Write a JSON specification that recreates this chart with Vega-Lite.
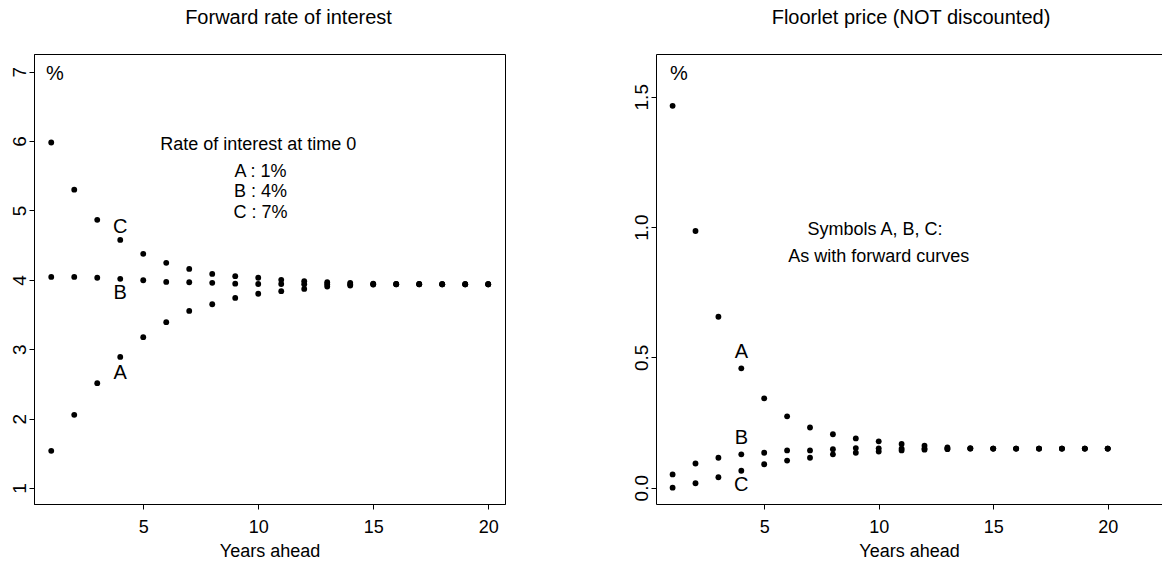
{
  "$schema": "https://vega.github.io/schema/vega-lite/v6.json",
  "background": "white",
  "padding": {"left": 9, "top": 7, "right": 0, "bottom": 0},
  "bounds": "flush",
  "spacing": 151,
  "datasets": {
    "fwd": [
      {"year": 1, "curve": "A", "value": 1.536}, {"year": 2, "curve": "A", "value": 2.055}, {"year": 3, "curve": "A", "value": 2.511}, {"year": 4, "curve": "A", "value": 2.89}, {"year": 5, "curve": "A", "value": 3.174},
      {"year": 6, "curve": "A", "value": 3.39}, {"year": 7, "curve": "A", "value": 3.553}, {"year": 8, "curve": "A", "value": 3.649}, {"year": 9, "curve": "A", "value": 3.74}, {"year": 10, "curve": "A", "value": 3.8},
      {"year": 11, "curve": "A", "value": 3.837}, {"year": 12, "curve": "A", "value": 3.87}, {"year": 13, "curve": "A", "value": 3.904}, {"year": 14, "curve": "A", "value": 3.918}, {"year": 15, "curve": "A", "value": 3.933},
      {"year": 16, "curve": "A", "value": 3.937}, {"year": 17, "curve": "A", "value": 3.937}, {"year": 18, "curve": "A", "value": 3.937}, {"year": 19, "curve": "A", "value": 3.937}, {"year": 20, "curve": "A", "value": 3.937},
      {"year": 1, "curve": "B", "value": 4.043}, {"year": 2, "curve": "B", "value": 4.043}, {"year": 3, "curve": "B", "value": 4.03}, {"year": 4, "curve": "B", "value": 4.015}, {"year": 5, "curve": "B", "value": 3.995},
      {"year": 6, "curve": "B", "value": 3.97}, {"year": 7, "curve": "B", "value": 3.966}, {"year": 8, "curve": "B", "value": 3.957}, {"year": 9, "curve": "B", "value": 3.945}, {"year": 10, "curve": "B", "value": 3.94},
      {"year": 11, "curve": "B", "value": 3.94}, {"year": 12, "curve": "B", "value": 3.938}, {"year": 13, "curve": "B", "value": 3.938}, {"year": 14, "curve": "B", "value": 3.937}, {"year": 15, "curve": "B", "value": 3.937},
      {"year": 16, "curve": "B", "value": 3.937}, {"year": 17, "curve": "B", "value": 3.937}, {"year": 18, "curve": "B", "value": 3.937}, {"year": 19, "curve": "B", "value": 3.937}, {"year": 20, "curve": "B", "value": 3.937},
      {"year": 1, "curve": "C", "value": 5.98}, {"year": 2, "curve": "C", "value": 5.3}, {"year": 3, "curve": "C", "value": 4.865}, {"year": 4, "curve": "C", "value": 4.576}, {"year": 5, "curve": "C", "value": 4.375},
      {"year": 6, "curve": "C", "value": 4.245}, {"year": 7, "curve": "C", "value": 4.158}, {"year": 8, "curve": "C", "value": 4.086}, {"year": 9, "curve": "C", "value": 4.053}, {"year": 10, "curve": "C", "value": 4.03},
      {"year": 11, "curve": "C", "value": 4.0}, {"year": 12, "curve": "C", "value": 3.98}, {"year": 13, "curve": "C", "value": 3.966}, {"year": 14, "curve": "C", "value": 3.957}, {"year": 15, "curve": "C", "value": 3.947},
      {"year": 16, "curve": "C", "value": 3.94}, {"year": 17, "curve": "C", "value": 3.94}, {"year": 18, "curve": "C", "value": 3.937}, {"year": 19, "curve": "C", "value": 3.937}, {"year": 20, "curve": "C", "value": 3.937}
    ],
    "floor": [
      {"year": 1, "curve": "A", "value": 1.465}, {"year": 2, "curve": "A", "value": 0.985}, {"year": 3, "curve": "A", "value": 0.656}, {"year": 4, "curve": "A", "value": 0.458}, {"year": 5, "curve": "A", "value": 0.343},
      {"year": 6, "curve": "A", "value": 0.274}, {"year": 7, "curve": "A", "value": 0.231}, {"year": 8, "curve": "A", "value": 0.205}, {"year": 9, "curve": "A", "value": 0.189}, {"year": 10, "curve": "A", "value": 0.178},
      {"year": 11, "curve": "A", "value": 0.168}, {"year": 12, "curve": "A", "value": 0.161}, {"year": 13, "curve": "A", "value": 0.155}, {"year": 14, "curve": "A", "value": 0.152}, {"year": 15, "curve": "A", "value": 0.15},
      {"year": 16, "curve": "A", "value": 0.15}, {"year": 17, "curve": "A", "value": 0.15}, {"year": 18, "curve": "A", "value": 0.15}, {"year": 19, "curve": "A", "value": 0.15}, {"year": 20, "curve": "A", "value": 0.15},
      {"year": 1, "curve": "B", "value": 0.051}, {"year": 2, "curve": "B", "value": 0.093}, {"year": 3, "curve": "B", "value": 0.115}, {"year": 4, "curve": "B", "value": 0.128}, {"year": 5, "curve": "B", "value": 0.134},
      {"year": 6, "curve": "B", "value": 0.143}, {"year": 7, "curve": "B", "value": 0.143}, {"year": 8, "curve": "B", "value": 0.148}, {"year": 9, "curve": "B", "value": 0.152}, {"year": 10, "curve": "B", "value": 0.151},
      {"year": 11, "curve": "B", "value": 0.15}, {"year": 12, "curve": "B", "value": 0.15}, {"year": 13, "curve": "B", "value": 0.15}, {"year": 14, "curve": "B", "value": 0.15}, {"year": 15, "curve": "B", "value": 0.15},
      {"year": 16, "curve": "B", "value": 0.15}, {"year": 17, "curve": "B", "value": 0.15}, {"year": 18, "curve": "B", "value": 0.15}, {"year": 19, "curve": "B", "value": 0.15}, {"year": 20, "curve": "B", "value": 0.15},
      {"year": 1, "curve": "C", "value": 0.0}, {"year": 2, "curve": "C", "value": 0.017}, {"year": 3, "curve": "C", "value": 0.04}, {"year": 4, "curve": "C", "value": 0.065}, {"year": 5, "curve": "C", "value": 0.09},
      {"year": 6, "curve": "C", "value": 0.104}, {"year": 7, "curve": "C", "value": 0.115}, {"year": 8, "curve": "C", "value": 0.128}, {"year": 9, "curve": "C", "value": 0.134}, {"year": 10, "curve": "C", "value": 0.139},
      {"year": 11, "curve": "C", "value": 0.143}, {"year": 12, "curve": "C", "value": 0.146}, {"year": 13, "curve": "C", "value": 0.148}, {"year": 14, "curve": "C", "value": 0.15}, {"year": 15, "curve": "C", "value": 0.15},
      {"year": 16, "curve": "C", "value": 0.15}, {"year": 17, "curve": "C", "value": 0.15}, {"year": 18, "curve": "C", "value": 0.15}, {"year": 19, "curve": "C", "value": 0.15}, {"year": 20, "curve": "C", "value": 0.15}
    ],
    "fwdText": [
      {"year": 4, "value": 4.68, "label": "C", "size": 20},
      {"year": 4, "value": 3.726, "label": "B", "size": 20},
      {"year": 4, "value": 2.573, "label": "A", "size": 20},
      {"year": 1.16, "value": 6.88, "label": "%", "size": 20},
      {"year": 10, "value": 5.873, "label": "Rate of interest at time 0", "size": 18},
      {"year": 10.1, "value": 5.488, "label": "A : 1%", "size": 18},
      {"year": 10.1, "value": 5.19, "label": "B : 4%", "size": 18},
      {"year": 10.1, "value": 4.893, "label": "C : 7%", "size": 18}
    ],
    "floorText": [
      {"year": 4, "value": 0.496, "label": "A", "size": 20},
      {"year": 4, "value": 0.166, "label": "B", "size": 20},
      {"year": 4, "value": -0.013, "label": "C", "size": 20},
      {"year": 1.27, "value": 1.565, "label": "%", "size": 20},
      {"year": 9.84, "value": 0.968, "label": "Symbols A, B, C:", "size": 18},
      {"year": 10.0, "value": 0.866, "label": "As with forward curves", "size": 18}
    ]
  },
  "hconcat": [
    {
      "width": 471,
      "height": 450,
      "title": {"text": "Forward rate of interest", "font": "Liberation Sans", "fontSize": 20, "fontWeight": "normal", "color": "black", "frame": "group", "anchor": "middle", "dx": 19, "baseline": "alphabetic", "offset": 10},
      "layer": [
        {
          "data": {"name": "fwd"},
          "mark": {"type": "circle", "size": 34, "color": "black", "opacity": 1},
          "encoding": {
            "x": {"field": "year", "type": "quantitative", "scale": {"domain": [0.25, 20.73], "nice": false, "zero": false}, "axis": {"values": [5, 10, 15, 20], "title": "Years ahead"}},
            "y": {"field": "value", "type": "quantitative", "scale": {"domain": [0.77, 7.255], "nice": false, "zero": false}, "axis": {"values": [1, 2, 3, 4, 5, 6, 7], "format": "d", "title": null}}
          }
        },
        {
          "data": {"name": "fwdText"},
          "mark": {"type": "text", "font": "Liberation Sans", "color": "black", "align": "center", "baseline": "alphabetic"},
          "encoding": {
            "x": {"field": "year", "type": "quantitative"},
            "y": {"field": "value", "type": "quantitative"},
            "text": {"field": "label"},
            "size": {"field": "size", "type": "quantitative", "scale": null, "legend": null}
          }
        }
      ]
    },
    {
      "width": 506,
      "height": 450,
      "view": {"stroke": null},
      "title": {"text": "Floorlet price (NOT discounted)", "font": "Liberation Sans", "fontSize": 20, "fontWeight": "normal", "color": "black", "frame": "group", "anchor": "middle", "dx": 2, "baseline": "alphabetic", "offset": 10},
      "layer": [
        {
          "data": {"name": "floor"},
          "mark": {"type": "circle", "size": 34, "color": "black", "opacity": 1},
          "encoding": {
            "x": {"field": "year", "type": "quantitative", "scale": {"domain": [0.275, 22.37], "nice": false, "zero": false}, "axis": {"orient": "bottom", "values": [5, 10, 15, 20], "title": "Years ahead"}},
            "y": {"field": "value", "type": "quantitative", "scale": {"domain": [-0.0625, 1.664], "nice": false, "zero": false}, "axis": {"values": [0, 0.5, 1, 1.5], "format": ".1f", "title": null}}
          }
        },
        {
          "data": {"name": "floorText"},
          "mark": {"type": "text", "font": "Liberation Sans", "color": "black", "align": "center", "baseline": "alphabetic"},
          "encoding": {
            "x": {"field": "year", "type": "quantitative", "axis": {"orient": "top", "domain": true, "ticks": false, "labels": false, "title": null, "grid": false}},
            "y": {"field": "value", "type": "quantitative"},
            "text": {"field": "label"},
            "size": {"field": "size", "type": "quantitative", "scale": null, "legend": null}
          }
        }
      ]
    }
  ],
  "config": {
    "view": {"stroke": "black", "strokeWidth": 1},
    "axis": {
      "grid": false,
      "domainColor": "black",
      "domainWidth": 1,
      "tickColor": "black",
      "tickSize": 5,
      "labelColor": "black",
      "titleColor": "black",
      "labelFont": "Liberation Sans",
      "labelFontSize": 18,
      "titleFont": "Liberation Sans",
      "titleFontSize": 18,
      "titleFontWeight": "normal"
    },
    "axisX": {"labelPadding": 9, "titlePadding": 6},
    "axisY": {"labelAngle": 270, "labelFont": "Liberation Sans", "labelFontSize": 19, "labelAlign": "center", "labelBaseline": "alphabetic", "labelPadding": 4}
  }
}
